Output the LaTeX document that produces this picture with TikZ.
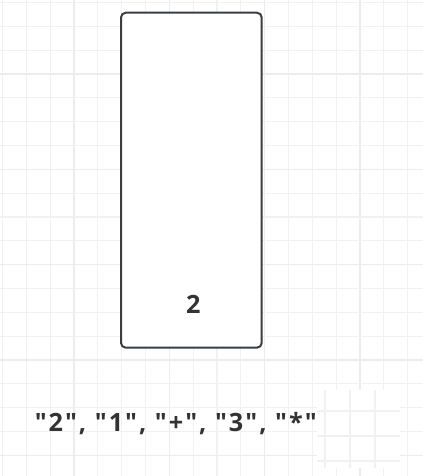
\documentclass[tikz,border=0pt]{standalone}
\usepackage{fontspec}
\newfontfamily\lblfont{Open Sans}
\newfontfamily\tokfont{Open Sans}[LetterSpace=8]
\definecolor{gridminor}{HTML}{F1F1F1}
\definecolor{gridmajor}{HTML}{ECECEC}
\definecolor{boxline}{HTML}{3A3E43}
\definecolor{txt}{HTML}{333333}
\tikzset{
  gridline/.style={draw=gridminor, line width=0.9pt},
  gridmaj/.style={draw=gridmajor, line width=0.9pt},
  stackbox/.style={draw=boxline, line width=1.5pt, rounded corners=3.5pt, fill=white,
    minimum width=105.5pt, minimum height=251.2pt, inner sep=0pt},
  lbl/.style={text=txt, font=\lblfont\fontsize{18.9}{22}\selectfont\bfseries, inner sep=0pt},
  toklbl/.style={text=txt, font=\tokfont\fontsize{18.9}{22}\selectfont\bfseries, inner sep=0pt},
}
\begin{document}
\begin{tikzpicture}[x=0.75pt,y=-0.75pt]
\useasboundingbox (0,0) rectangle (423,476);
\fill[white] (0,0) rectangle (423,476);
% grid
\foreach \k in {0,...,17}{
  \pgfmathsetmacro{\p}{2.5+23.83*\k}
  \pgfmathtruncatemacro{\m}{mod(\k,4)}
  \ifnum\m=3
    \draw[gridmaj] (\p,0) -- (\p,476);
  \else
    \draw[gridline] (\p,0) -- (\p,476);
  \fi
}
\foreach \k in {0,...,19}{
  \pgfmathsetmacro{\p}{2.5+23.83*\k}
  \pgfmathtruncatemacro{\m}{mod(\k,4)}
  \ifnum\m=3
    \draw[gridmaj] (0,\p) -- (423,\p);
  \else
    \draw[gridline] (0,\p) -- (423,\p);
  \fi
}
% stack box
\node (box) [stackbox] at (191.35,180.2) {};
\node (top) [lbl, anchor=base] at (193.3,313.3) {2};
% token text
\node (tokens) [toklbl, anchor=base west] at (34.5,431) {"2", "1", "+", "3", "*",};
% white patch with offset grid
\fill[white] (317,390) rectangle (400,468);
\begin{scope}
\clip (317,390) rectangle (400,468);
\foreach \p in {325,350,375}{\draw[gridline] (\p,390) -- (\p,468);}
\foreach \p in {411,436,461}{\draw[gridline] (317,\p) -- (400,\p);}
\end{scope}
\end{tikzpicture}
\end{document}
